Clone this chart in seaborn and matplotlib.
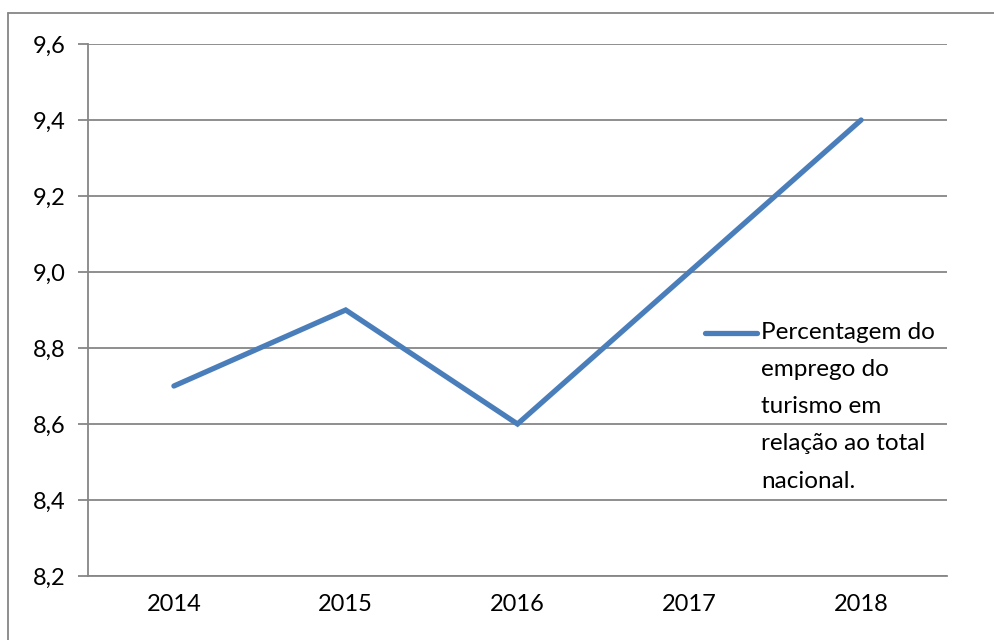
import matplotlib
matplotlib.use("Agg")
import matplotlib.pyplot as plt
import numpy as np
import pandas as pd
import seaborn as sns
from matplotlib.lines import Line2D
from matplotlib.ticker import FixedLocator

# data
years = ["2014", "2015", "2016", "2017", "2018"]
share = [8.7, 8.9, 8.6, 9.0, 9.4]
y_ticks = [8.2, 8.4, 8.6, 8.8, 9.0, 9.2, 9.4, 9.6]
series_label = "Percentagem do\nemprego do\nturismo em\nrelação ao total\nnacional."

LINE_COLOR = "#4A7EBB"
GRID_COLOR = "#868686"

sns.set_theme(style="white")
plt.rcParams["font.family"] = ["Lato", "DejaVu Sans"]

df = pd.DataFrame({"ano": years, "valor": share})

W, H = 995, 640
# plot area in pixels, measured on the reference
left, right, top, bottom = 88, 947, 44, 576

fig = plt.figure(figsize=(W / 100, H / 100), dpi=100)
ax = fig.add_axes([left / W, (H - bottom) / H, (right - left) / W, (bottom - top) / H])

sns.lineplot(data=df, x="ano", y="valor", ax=ax, color=LINE_COLOR,
             linewidth=3.8, solid_capstyle="round", solid_joinstyle="miter",
             sort=False, legend=False)

ax.set_xlim(-0.5, len(years) - 0.5)
ax.set_ylim(y_ticks[0], y_ticks[-1])
ax.set_yticks(y_ticks)
ax.set_yticklabels([f"{v:.1f}".replace(".", ",") for v in y_ticks])
ax.set_xticks(range(len(years)))
ax.set_xticklabels(years)
ax.xaxis.set_minor_locator(FixedLocator(np.arange(-0.5, len(years), 1.0)))

ax.yaxis.grid(True, color=GRID_COLOR, linewidth=1.3)
ax.set_axisbelow(True)
ax.set_xlabel("")
ax.set_ylabel("")

for side in ("top", "right"):
    ax.spines[side].set_visible(False)
for side in ("left", "bottom"):
    ax.spines[side].set_color(GRID_COLOR)
    ax.spines[side].set_linewidth(1.3)

ax.tick_params(axis="x", which="major", length=0, pad=13, labelsize=17, colors="black")
ax.tick_params(axis="x", which="minor", length=7, width=1.3, color=GRID_COLOR, direction="out")
ax.tick_params(axis="y", length=7, width=1.3, color=GRID_COLOR, pad=9, labelsize=17,
               labelcolor="black", left=True)

# legend drawn by hand: Excel puts the key next to the first line of a wrapped label
def ax_x(px):
    return (px - left) / (right - left)

def ax_y(py):
    return (bottom - py) / (bottom - top)

ax.add_line(Line2D([ax_x(705), ax_x(757)], [ax_y(333), ax_y(333)], transform=ax.transAxes,
                   color=LINE_COLOR, linewidth=3.8, solid_capstyle="round"))
ax.text(ax_x(761), ax_y(322), series_label, transform=ax.transAxes, ha="left", va="top",
        fontsize=17.5, linespacing=1.95, color="black")

# outer chart border (only top and left edges fall inside the image)
fig.add_artist(Line2D([8 / W, 1.0], [1 - 13 / H, 1 - 13 / H],
                      transform=fig.transFigure, color=GRID_COLOR, linewidth=1.3))
fig.add_artist(Line2D([8 / W, 8 / W], [0.0, 1 - 13 / H],
                      transform=fig.transFigure, color=GRID_COLOR, linewidth=1.3))

fig.savefig("out.png", dpi=100)
